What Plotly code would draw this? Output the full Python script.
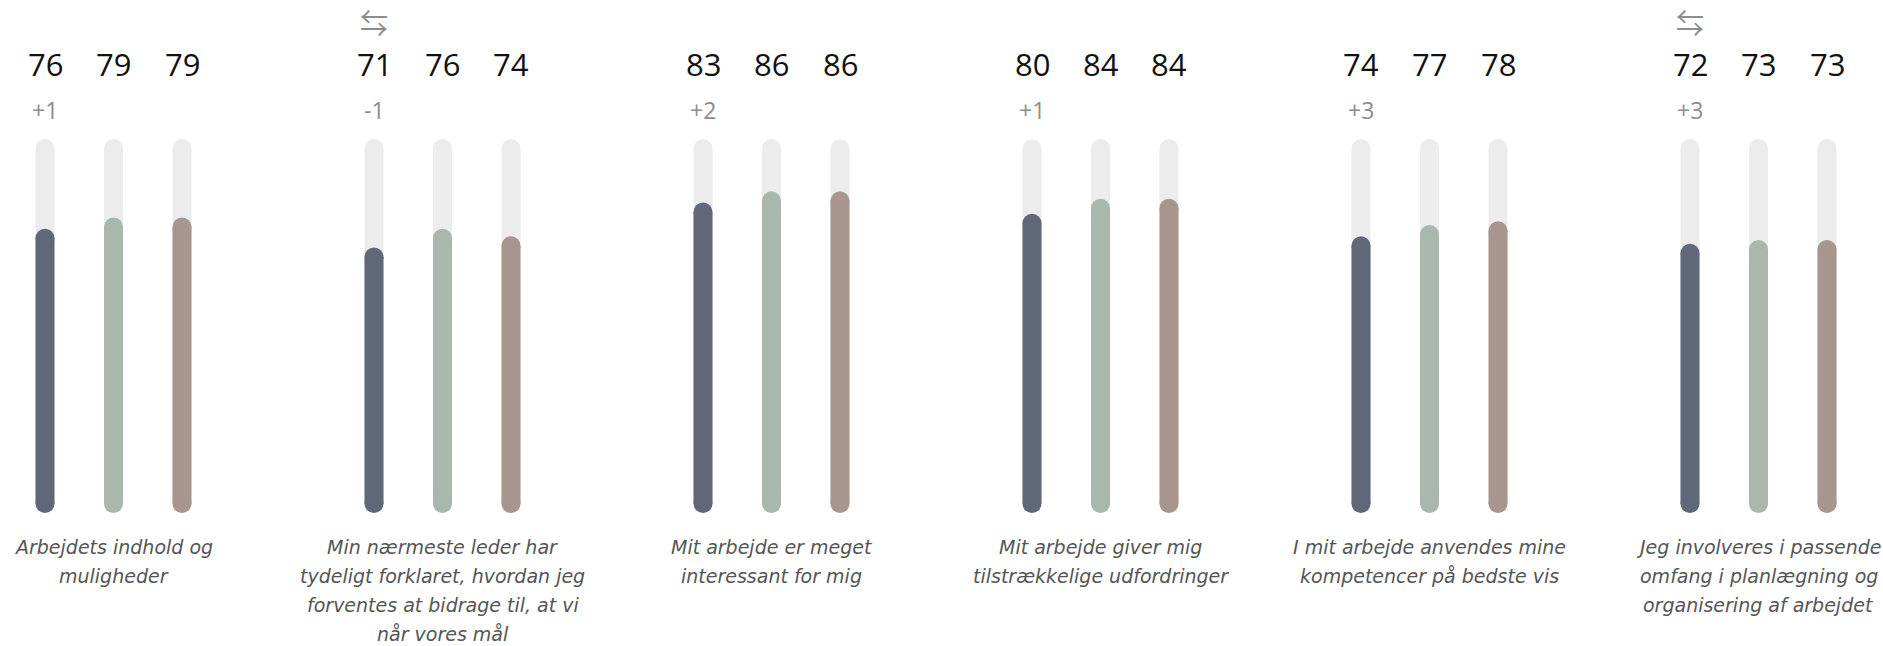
import plotly.graph_objects as go

# ---------------- data ----------------
label_lines = [
    ["Arbejdets indhold og", "muligheder"],
    ["Min nærmeste leder har", "tydeligt forklaret, hvordan jeg",
     "forventes at bidrage til, at vi", "når vores mål"],
    ["Mit arbejde er meget", "interessant for mig"],
    ["Mit arbejde giver mig", "tilstrækkelige udfordringer"],
    ["I mit arbejde anvendes mine", "kompetencer på bedste vis"],
    ["Jeg involveres i passende", "omfang i planlægning og",
     "organisering af arbejdet"],
]
series_names = ["Resultat", "Sammenligning 1", "Sammenligning 2"]
values_s1 = [76, 71, 83, 80, 74, 72]
values_s2 = [79, 76, 86, 84, 77, 73]
values_s3 = [79, 74, 86, 84, 78, 73]
deltas = ["+1", "-1", "+2", "+1", "+3", "+3"]
swap_flags = [False, True, False, False, False, True]
scale_max = 100

# ---------------- style / layout ----------------
W, H = 1883, 646
colors = ["#606779", "#a9b7ac", "#a8958d"]
track_color = "#ececec"
px_per_unit = 68.5          # horizontal px per bar slot
group_step = 329 / px_per_unit
first_bar_px = 45
bar_px = 19
y_zero_px, y_max_px = 513, 139
px_per_val = (y_zero_px - y_max_px) / scale_max
r_u = (bar_px / 2) / px_per_val   # cap radius in data units

x0 = -first_bar_px / px_per_unit
x_range = [x0, x0 + W / px_per_unit]
y_range = [-(H - y_zero_px) / px_per_val, y_zero_px / px_per_val]

n = len(values_s1)
all_series = [values_s1, values_s2, values_s3]

fig = go.Figure()


def pill(xs, vals, color, name):
    lx, ly = [], []
    for x, v in zip(xs, vals):
        lx += [x, x, None]
        ly += [r_u, v - r_u, None]
    fig.add_trace(go.Scatter(
        x=lx, y=ly, mode="lines+markers", name=name,
        line=dict(color=color, width=bar_px),
        marker=dict(color=color, size=bar_px, symbol="circle", line=dict(width=0)),
        hoverinfo="skip", showlegend=False, cliponaxis=False))


for s, vals in enumerate(all_series):
    xs = [g * group_step + s for g in range(n)]
    pill(xs, [scale_max] * n, track_color, "track")

for s, vals in enumerate(all_series):
    xs = [g * group_step + s for g in range(n)]
    pill(xs, vals, colors[s], series_names[s])

annotations = []
num_font = dict(family="Open Sans, Noto Sans, sans-serif", size=31, color="#111111")
for g in range(n):
    for s, vals in enumerate(all_series):
        annotations.append(dict(
            x=g * group_step + s, y=1 - 63.5 / H, xref="x", yref="paper",
            text=str(vals[g]), showarrow=False, font=num_font,
            xanchor="center", yanchor="middle"))
    annotations.append(dict(
        x=g * group_step, y=1 - 110 / H, xref="x", yref="paper",
        text=deltas[g], showarrow=False,
        font=dict(family="Open Sans, Noto Sans, sans-serif", size=23, color="#8c8c8c"),
        xanchor="center", yanchor="middle"))
    if swap_flags[g]:
        annotations.append(dict(
            x=g * group_step, y=1 - 22 / H, xref="x", yref="paper",
            text="⇆", showarrow=False,
            font=dict(family="Noto Sans CJK JP, DejaVu Sans, sans-serif", size=28,
                      color="#8c8c8c"),
            xanchor="center", yanchor="middle"))
    for i, line in enumerate(label_lines[g]):
        annotations.append(dict(
            x=g * group_step + 1, y=1 - (547 + i * 29) / H, xref="x", yref="paper",
            text="<i>" + line + "</i>", showarrow=False,
            font=dict(family="DejaVu Sans, sans-serif", size=19, color="#555555"),
            xanchor="center", yanchor="middle"))

fig.update_layout(
    width=W, height=H,
    margin=dict(l=0, r=0, t=0, b=0),
    paper_bgcolor="white", plot_bgcolor="white",
    showlegend=False, hovermode=False,
    xaxis=dict(range=x_range, visible=False, fixedrange=True),
    yaxis=dict(range=y_range, visible=False, fixedrange=True),
    annotations=annotations,
)

fig.write_html("out.html", config={"displayModeBar": False},
               post_script="document.body.style.margin='0px';document.body.style.overflow='hidden';")
